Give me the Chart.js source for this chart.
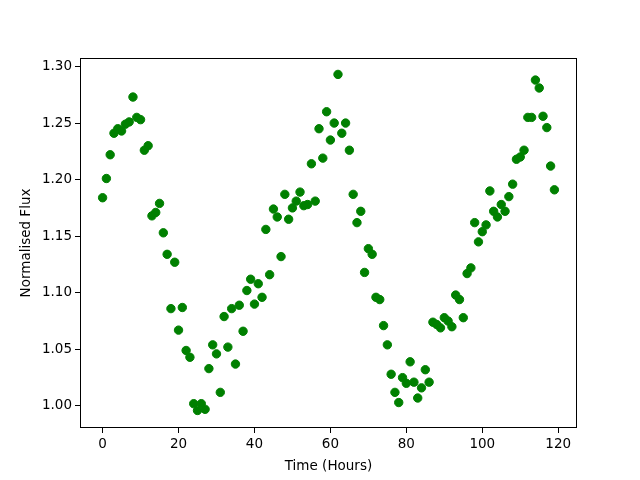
<!DOCTYPE html>
<html>
<head>
<meta charset="utf-8">
<script src="https://cdn.jsdelivr.net/npm/chart.js@4"></script>
<style>
  body { margin: 0; background: #fff; }
  canvas { display: block; }
</style>
</head>
<body>
<canvas id="fluxChart" width="640" height="480"></canvas>
<script>
// normalised flux, one reading per hour from t = 0
const flux = [
  1.184, 1.201, 1.222, 1.241, 1.245, 1.243, 1.249, 1.251, 1.273, 1.255,
  1.253, 1.226, 1.230, 1.168, 1.171, 1.179, 1.153, 1.134, 1.086, 1.127,
  1.067, 1.087, 1.049, 1.043, 1.002, 0.996, 1.002, 0.997, 1.033, 1.054,
  1.046, 1.012, 1.079, 1.052, 1.086, 1.037, 1.089, 1.066, 1.102, 1.112,
  1.090, 1.108, 1.096, 1.156, 1.116, 1.174, 1.167, 1.132, 1.187, 1.165,
  1.175, 1.181, 1.189, 1.177, 1.178, 1.214, 1.181, 1.245, 1.219, 1.260,
  1.235, 1.250, 1.293, 1.241, 1.250, 1.226, 1.187, 1.162, 1.172, 1.118,
  1.139, 1.134, 1.096, 1.094, 1.071, 1.054, 1.028, 1.012, 1.003, 1.025,
  1.020, 1.039, 1.021, 1.007, 1.016, 1.032, 1.021, 1.074, 1.072, 1.069,
  1.078, 1.075, 1.070, 1.098, 1.094, 1.078, 1.117, 1.122, 1.162, 1.145,
  1.154, 1.160, 1.190, 1.172, 1.167, 1.178, 1.172, 1.185, 1.196, 1.218,
  1.220, 1.226, 1.255, 1.255, 1.288, 1.281, 1.256, 1.246, 1.212, 1.191
];
const hours = flux.map((_, i) => i);
const xTicks = [0, 20, 40, 60, 80, 100, 120];
const yTicks = [1.00, 1.05, 1.10, 1.15, 1.20, 1.25, 1.30];

const tickFont = { family: 'DejaVu Sans', size: 13.5 };

// matplotlib style full frame round the plot area
const frame = {
  id: 'frame',
  afterDraw(chart) {
    const a = chart.chartArea;
    const c = chart.ctx;
    c.save();
    c.strokeStyle = '#000';
    c.lineWidth = 1;
    c.strokeRect(Math.round(a.left) + 0.5, Math.round(a.top) + 0.5,
      Math.round(a.right - a.left) - 1, Math.round(a.bottom - a.top) - 1);
    c.restore();
  }
};

const ctx = document.getElementById('fluxChart').getContext('2d');
new Chart(ctx, {
  type: 'scatter',
  data: {
    datasets: [{
      data: hours.map((h, i) => ({ x: h, y: flux[i] })),
      backgroundColor: '#008000',
      borderColor: '#008000',
      pointRadius: 4.2,
      pointHoverRadius: 4.2,
    }]
  },
  plugins: [frame],
  options: {
    responsive: false,
    animation: false,
    layout: { padding: { top: 58, right: 63, left: 0, bottom: 0 } },
    plugins: { legend: { display: false }, tooltip: { enabled: false } },
    scales: {
      x: {
        min: -5.95,
        max: 124.95,
        afterBuildTicks: s => { s.ticks = xTicks.map(v => ({ value: v })); },
        afterFit: s => { s.height = 52; },
        grid: { drawOnChartArea: false, tickLength: 5, tickColor: '#000', color: '#000' },
        border: { display: false },
        ticks: { color: '#000', font: tickFont, padding: 3, maxRotation: 0 },
        title: { display: true, text: 'Time (Hours)', color: '#000', font: tickFont, padding: { top: 0, bottom: 5 } }
      },
      y: {
        min: 0.9805,
        max: 1.3075,
        afterBuildTicks: s => { s.ticks = yTicks.map(v => ({ value: v })); },
        afterFit: s => { s.width = 80; },
        grid: { drawOnChartArea: false, tickLength: 5, tickColor: '#000', color: '#000' },
        border: { display: false },
        ticks: { color: '#000', font: tickFont, padding: 3, callback: v => v.toFixed(2) },
        title: { display: true, text: 'Normalised Flux', color: '#000', font: tickFont, padding: { top: 18, bottom: 0 } }
      }
    }
  }
});
</script>
</body>
</html>
